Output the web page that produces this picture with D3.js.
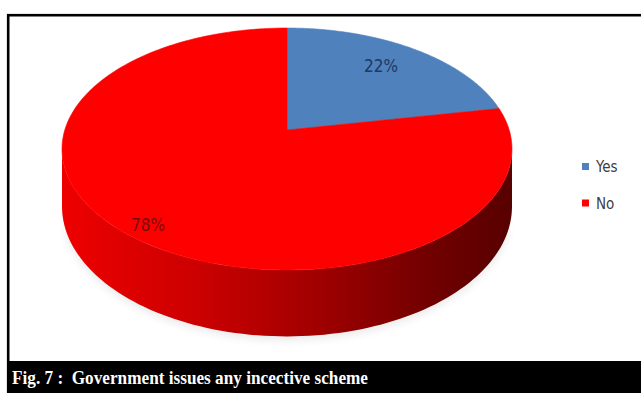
<!DOCTYPE html>
<html>
<head>
<meta charset="utf-8">
<script src="https://cdn.jsdelivr.net/npm/d3@7"></script>
<style>
  html, body { margin: 0; padding: 0; background: #fff; }
  svg { display: block; }
</style>
</head>
<body>
<svg id="chart" width="641" height="393"></svg>
<script>
// Survey answers: does the government issue any incentive scheme?
const categories = ["Yes", "No"];
const values = [22, 78];
const sliceColors = ["#4f81bd", "#ff0000"];
const caption = "Fig. 7 :  Government issues any incective scheme";

const W = 641, H = 393;
const svg = d3.select("#chart");

// Outer frame and caption bar
svg.append("rect")
  .attr("x", 8.2).attr("y", 15.2)
  .attr("width", W).attr("height", H)
  .attr("fill", "#fff").attr("stroke", "#000").attr("stroke-width", 2.6);

svg.append("rect")
  .attr("x", 7).attr("y", 361)
  .attr("width", W).attr("height", H - 361)
  .attr("fill", "#000");

svg.append("text")
  .attr("x", 12).attr("y", 384)
  .attr("fill", "#fff")
  .attr("font-family", "'Liberation Serif', 'DejaVu Serif', serif")
  .attr("font-weight", "bold")
  .attr("font-size", 19)
  .attr("textLength", 356)
  .attr("lengthAdjust", "spacingAndGlyphs")
  .attr("xml:space", "preserve")
  .style("white-space", "pre")
  .text(caption);

// Perspective projection of the disc: angle runs clockwise from 12 o'clock,
// h = 0 is the top face, h = 1 the bottom face.
const cx = 287, cy = 130;
const k = -0.157;          // perspective strength (front nearer)
const A = 222.2;           // horizontal radius factor
const B = 118;             // vertical radius factor
const D = 56;              // thickness factor
function proj(theta, h) {
  const u = Math.sin(theta), v = -Math.cos(theta);
  const w = 1 + k * v;
  return [cx + A * u / w, cy + (B * v + D * h) / w];
}

const pie = d3.pie().sort(null).value(d => d.value).startAngle(0).endAngle(2 * Math.PI);
const data = categories.map((c, i) => ({ name: c, value: values[i] }));
const arcs = pie(data);
const color = d3.scaleOrdinal().domain(categories).range(sliceColors);

const line = d3.line();
function arcPoints(a0, a1, h, n) {
  const pts = [];
  for (let i = 0; i <= n; i++) pts.push(proj(a0 + (a1 - a0) * i / n, h));
  return pts;
}

const defs = svg.append("defs");
const grad = defs.append("linearGradient")
  .attr("id", "sideGrad").attr("gradientUnits", "userSpaceOnUse")
  .attr("x1", 62).attr("x2", 512).attr("y1", 0).attr("y2", 0);
[[0, "#ee0000"], [0.3, "#cc0000"], [0.55, "#a40000"], [0.8, "#740000"], [1, "#580000"]]
  .forEach(([o, c]) => grad.append("stop").attr("offset", o).attr("stop-color", c));

defs.append("filter").attr("id", "soft")
  .attr("x", "-20%").attr("y", "-50%").attr("width", "140%").attr("height", "200%")
  .append("feGaussianBlur").attr("stdDeviation", 4);

// faint shadow under the disc
const shadowPts = arcPoints(Math.PI / 2 + 0.3, 3 * Math.PI / 2 - 0.3, 1, 60).map(p => [p[0], p[1] + 4]);
svg.append("path")
  .attr("d", line(shadowPts) + "Z")
  .attr("fill", "#000").attr("opacity", 0.08)
  .attr("filter", "url(#soft)");

// Visible side wall: between the left and right silhouette points
const sil = Math.acos(k);
arcs.forEach(a => {
  const s = Math.max(a.startAngle, sil), e = Math.min(a.endAngle, 2 * Math.PI - sil);
  if (e <= s) return;
  const top = arcPoints(s, e, 0, 100);
  const bot = arcPoints(e, s, 1, 100);
  svg.append("path")
    .attr("d", line(top.concat(bot)) + "Z")
    .attr("fill", a.data.name === "No" ? "url(#sideGrad)" : d3.color(color(a.data.name)).darker(1.2));
});

// Top face slices
arcs.forEach(a => {
  const pts = [[cx, cy]].concat(arcPoints(a.startAngle, a.endAngle, 0, 160));
  svg.append("path")
    .attr("d", line(pts) + "Z")
    .attr("fill", color(a.data.name))
    .attr("stroke", color(a.data.name)).attr("stroke-width", 0.6);
});

// Data labels
const labelPos = { Yes: [381, 66], No: [148, 225] };
const labelColor = { Yes: "#1f3864", No: "#7a0a0a" };
arcs.forEach(a => {
  svg.append("text")
    .attr("x", labelPos[a.data.name][0]).attr("y", labelPos[a.data.name][1])
    .attr("text-anchor", "middle").attr("dominant-baseline", "central")
    .attr("font-family", "'Liberation Sans Narrow', 'DejaVu Sans Condensed', sans-serif")
    .attr("font-size", 17)
    .attr("fill", labelColor[a.data.name])
    .text(Math.round(a.value) + "%");
});

// Legend
const legend = svg.append("g");
const ly = d3.scalePoint().domain(categories).range([166.5, 203]);
categories.forEach(c => {
  legend.append("rect")
    .attr("x", 582).attr("y", ly(c) - 3.5)
    .attr("width", 7).attr("height", 7)
    .attr("fill", color(c));
  legend.append("text")
    .attr("x", 596).attr("y", ly(c) + 5.5)
    .attr("font-family", "'Liberation Sans Narrow', 'DejaVu Sans Condensed', sans-serif")
    .attr("font-size", 15)
    .attr("fill", "#404040")
    .text(c);
});
</script>
</body>
</html>
